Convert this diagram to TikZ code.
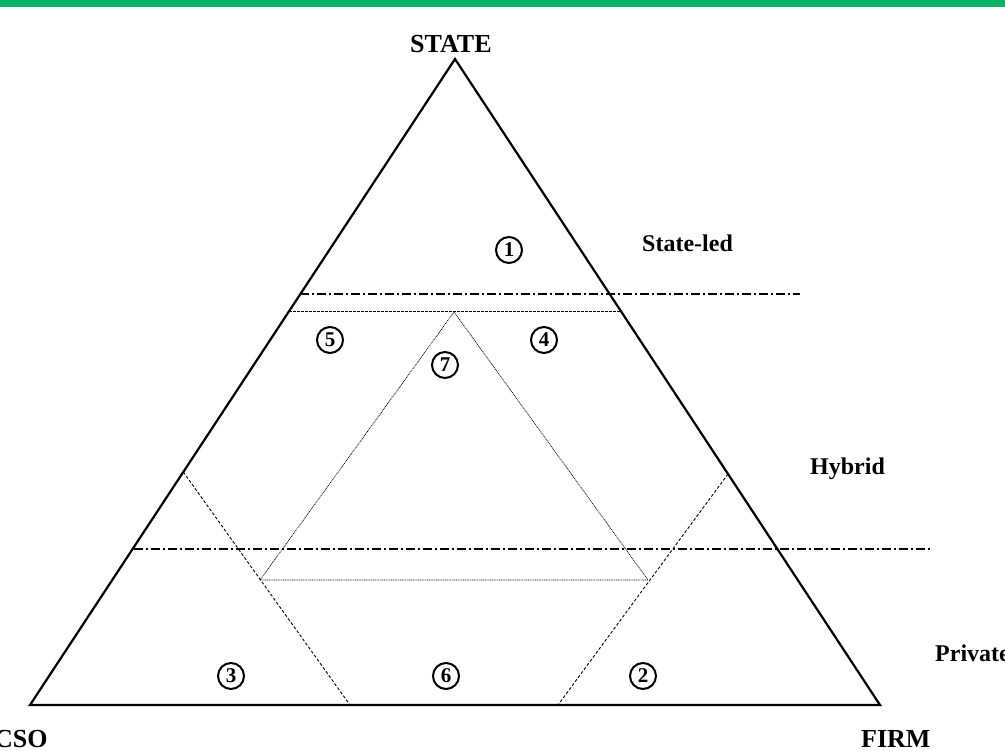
\documentclass[tikz,border=0pt]{standalone}
\usepackage{fontspec}
\setmainfont{Liberation Serif}
\definecolor{topbar}{RGB}{0,180,100}
\begin{document}
\begin{tikzpicture}[x=1pt,y=-1pt,
  outer/.style={line width=2.2pt, line join=miter},
  band/.style={line width=1.2pt, dash pattern=on 9pt off 3pt on 2pt off 3pt},
  fine/.style={line width=0.9pt, dash pattern=on 2.5pt off 1.5pt},
  inner/.style={line width=0.7pt, dash pattern=on 1pt off 0.8pt},
  split/.style={line width=0.9pt, dash pattern=on 3pt off 2pt},
  vertex/.style={font=\fontsize{26}{30}\selectfont\bfseries, inner sep=0pt, anchor=base west},
  zone/.style={font=\fontsize{24}{28}\selectfont\bfseries, inner sep=0pt, anchor=base west},
  num/.style={circle, draw, line width=2pt, minimum size=26pt, inner sep=0pt,
              font=\fontsize{21}{21}\selectfont\bfseries}]
\useasboundingbox (0,0) rectangle (1005,751);
\fill[topbar] (0,0) rectangle (1005,7);

% corners of the governance triangle
\coordinate (S) at (455,59);
\coordinate (C) at (30,705);
\coordinate (F) at (880,705);

% band boundaries
\coordinate (b1l) at (300.4,294);
\coordinate (b1r) at (800,294);
\coordinate (b2l) at (133.6,549);
\coordinate (b2r) at (930,549);
\coordinate (fl) at (289.2,311);
\coordinate (fr) at (620.8,311);

% inner hybrid triangle
\coordinate (iS) at (454,312);
\coordinate (iC) at (260,580);
\coordinate (iF) at (648,580);

% side splits
\coordinate (sl1) at (183.3,472);
\coordinate (sl2) at (350,705);
\coordinate (sr1) at (728,474);
\coordinate (sr2) at (558,705);

\draw[outer] (S) -- (F) -- (C) -- cycle;
\draw[band] (b1l) -- (b1r);
\draw[band] (b2l) -- (b2r);
\draw[fine] (fl) -- (fr);
\draw[inner] (iS) -- (iF) -- (iC) -- cycle;
\draw[split] (sl1) -- (sl2);
\draw[split] (sr1) -- (sr2);

% vertex labels
\node[vertex] (state) at (410,53) {STATE};
\node[vertex] (cso) at (-6,747) {CSO};
\node[vertex] (firm) at (861,747) {FIRM};

% band labels
\node[zone] (led) at (642,252) {State-led};
\node[zone] (hyb) at (810,475) {Hybrid};
\node[zone] (priv) at (935,661) {Private};

% numbered regions
\node[num] (n1) at (509,250) {1};
\node[num] (n2) at (643,676) {2};
\node[num] (n3) at (231,676) {3};
\node[num] (n4) at (544,340) {4};
\node[num] (n5) at (330,340) {5};
\node[num] (n6) at (446,676) {6};
\node[num] (n7) at (445,365) {7};
\end{tikzpicture}
\end{document}
